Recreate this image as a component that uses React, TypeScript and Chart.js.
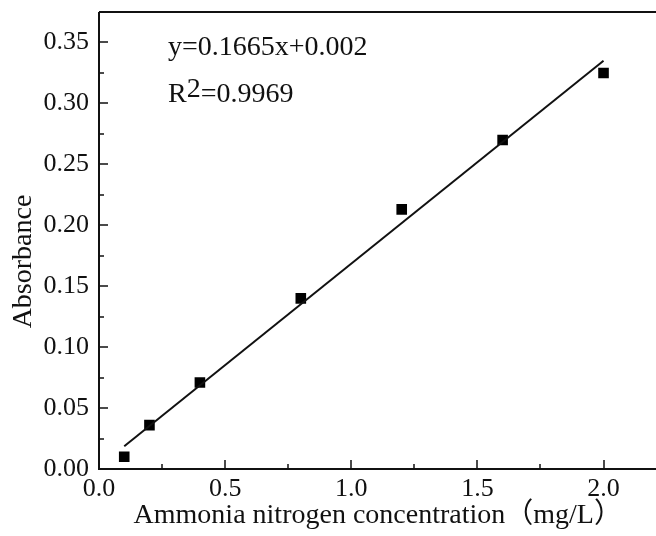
import React, { useEffect, useRef } from "react";
import { Chart, registerables } from "chart.js";

Chart.register(...registerables);

const concentration = [0.1, 0.2, 0.4, 0.8, 1.2, 1.6, 2.0];
const absorbance = [0.01, 0.036, 0.071, 0.14, 0.213, 0.27, 0.325];
const SLOPE = 0.1665;
const INTERCEPT = 0.002;
const R2 = "0.9969";
const fitRange = [0.1, 2.0];
const xTicks = [0.0, 0.5, 1.0, 1.5, 2.0];
const yTicks = [0.0, 0.05, 0.1, 0.15, 0.2, 0.25, 0.3, 0.35];

const SERIF = '"Liberation Serif", "Noto Sans CJK SC", serif';

const overlay = {
  id: "overlay",
  afterDraw(chart: any) {
    const { ctx, chartArea } = chart;
    const { left, right, top, bottom } = chartArea;
    const xs = chart.scales.x;
    const ys = chart.scales.y;
    ctx.save();
    ctx.strokeStyle = "#111";
    ctx.lineWidth = 2;
    ctx.beginPath();
    ctx.moveTo(left, top);
    ctx.lineTo(right, top);
    ctx.moveTo(left, top);
    ctx.lineTo(left, bottom);
    ctx.lineTo(right, bottom);
    ctx.stroke();
    ctx.lineWidth = 1.5;
    ctx.beginPath();
    for (let v = 0; v <= 2.2001; v += 0.25) {
      const px = Math.round(xs.getPixelForValue(v));
      const major = Math.abs(v / 0.5 - Math.round(v / 0.5)) < 1e-6;
      const len = major ? 9 : 5;
      if (px <= left + 1) continue;
      ctx.moveTo(px, bottom);
      ctx.lineTo(px, bottom - len);
    }
    for (let v = 0; v <= 0.3751; v += 0.025) {
      const py = Math.round(ys.getPixelForValue(v));
      const major = Math.abs(v / 0.05 - Math.round(v / 0.05)) < 1e-6;
      const len = major ? 9 : 5;
      if (py >= bottom - 1) continue;
      ctx.moveTo(left, py);
      ctx.lineTo(left + len, py);
    }
    ctx.stroke();

    // equation annotation
    ctx.fillStyle = "#111";
    ctx.font = `28px ${SERIF}`;
    ctx.textBaseline = "alphabetic";
    ctx.textAlign = "left";
    const ex = left + 69;
    ctx.fillText(`y=${SLOPE}x+${INTERCEPT}`, ex, top + 43);
    const rBase = top + 90;
    ctx.fillText("R", ex, rBase);
    const rw = ctx.measureText("R").width;
    ctx.fillText("2", ex + rw, rBase - 5);
    const tw = ctx.measureText("2").width;
    ctx.fillText(`=${R2}`, ex + rw + tw, rBase);

    // y axis title
    ctx.font = `28px ${SERIF}`;
    ctx.textAlign = "center";
    ctx.textBaseline = "middle";
    ctx.translate(24, (top + bottom) / 2 + 21);
    ctx.rotate(-Math.PI / 2);
    ctx.fillText("Absorbance", 0, 0);
    ctx.restore();
  },
};

export default function App() {
  const ref = useRef<HTMLCanvasElement | null>(null);
  useEffect(() => {
    if (!ref.current) return;
    const fitData = fitRange.map((x) => ({ x, y: SLOPE * x + INTERCEPT }));
    const chart = new Chart(ref.current, {
      type: "scatter",
      data: {
        datasets: [
          {
            type: "line",
            data: fitData,
            borderColor: "#111",
            borderWidth: 2,
            pointRadius: 0,
            fill: false,
          },
          {
            data: concentration.map((x, i) => ({ x, y: absorbance[i] })),
            pointStyle: "rect",
            pointRadius: 7.5,
            pointBackgroundColor: "#000",
            pointBorderWidth: 0,
            borderWidth: 0,
          },
        ],
      },
      options: {
        animation: false,
        responsive: false,
        layout: { padding: { top: 12, right: 0, left: 0, bottom: 0 } },
        plugins: { legend: { display: false }, tooltip: { enabled: false } },
        scales: {
          x: {
            type: "linear",
            min: 0,
            max: 2.21,
            afterFit: (s: any) => {
              s.height = 67;
              s.paddingLeft = 0;
              s.paddingRight = 0;
            },
            afterBuildTicks: (s: any) => {
              s.ticks = xTicks.map((v) => ({ value: v }));
            },
            grid: { display: false, drawTicks: false },
            border: { display: false },
            ticks: {
              color: "#111",
              padding: 5,
              font: { family: SERIF, size: 26 },
              callback: (v: any) => Number(v).toFixed(1),
            },
            title: {
              display: true,
              text: "Ammonia nitrogen concentration（mg/L）",
              color: "#111",
              font: { family: SERIF, size: 28 },
              padding: { top: 0, bottom: 4 },
            },
          },
          y: {
            type: "linear",
            min: 0,
            max: 0.375,
            afterFit: (s: any) => {
              s.width = 99;
              s.paddingTop = 0;
              s.paddingBottom = 0;
            },
            afterBuildTicks: (s: any) => {
              s.ticks = yTicks.map((v) => ({ value: v }));
            },
            grid: { display: false, drawTicks: false },
            border: { display: false },
            ticks: {
              color: "#111",
              padding: 10,
              font: { family: SERIF, size: 26 },
              callback: (v: any) => Number(v).toFixed(2),
            },
          },
        },
      },
      plugins: [overlay],
    });
    return () => chart.destroy();
  }, []);
  return (
    <div
      style={{
        position: "absolute",
        left: 0,
        top: 0,
        width: 656,
        height: 536,
        overflow: "hidden",
        background: "#fff",
      }}
    >
      <canvas ref={ref} width={664} height={536} style={{ display: "block" }} />
    </div>
  );
}
